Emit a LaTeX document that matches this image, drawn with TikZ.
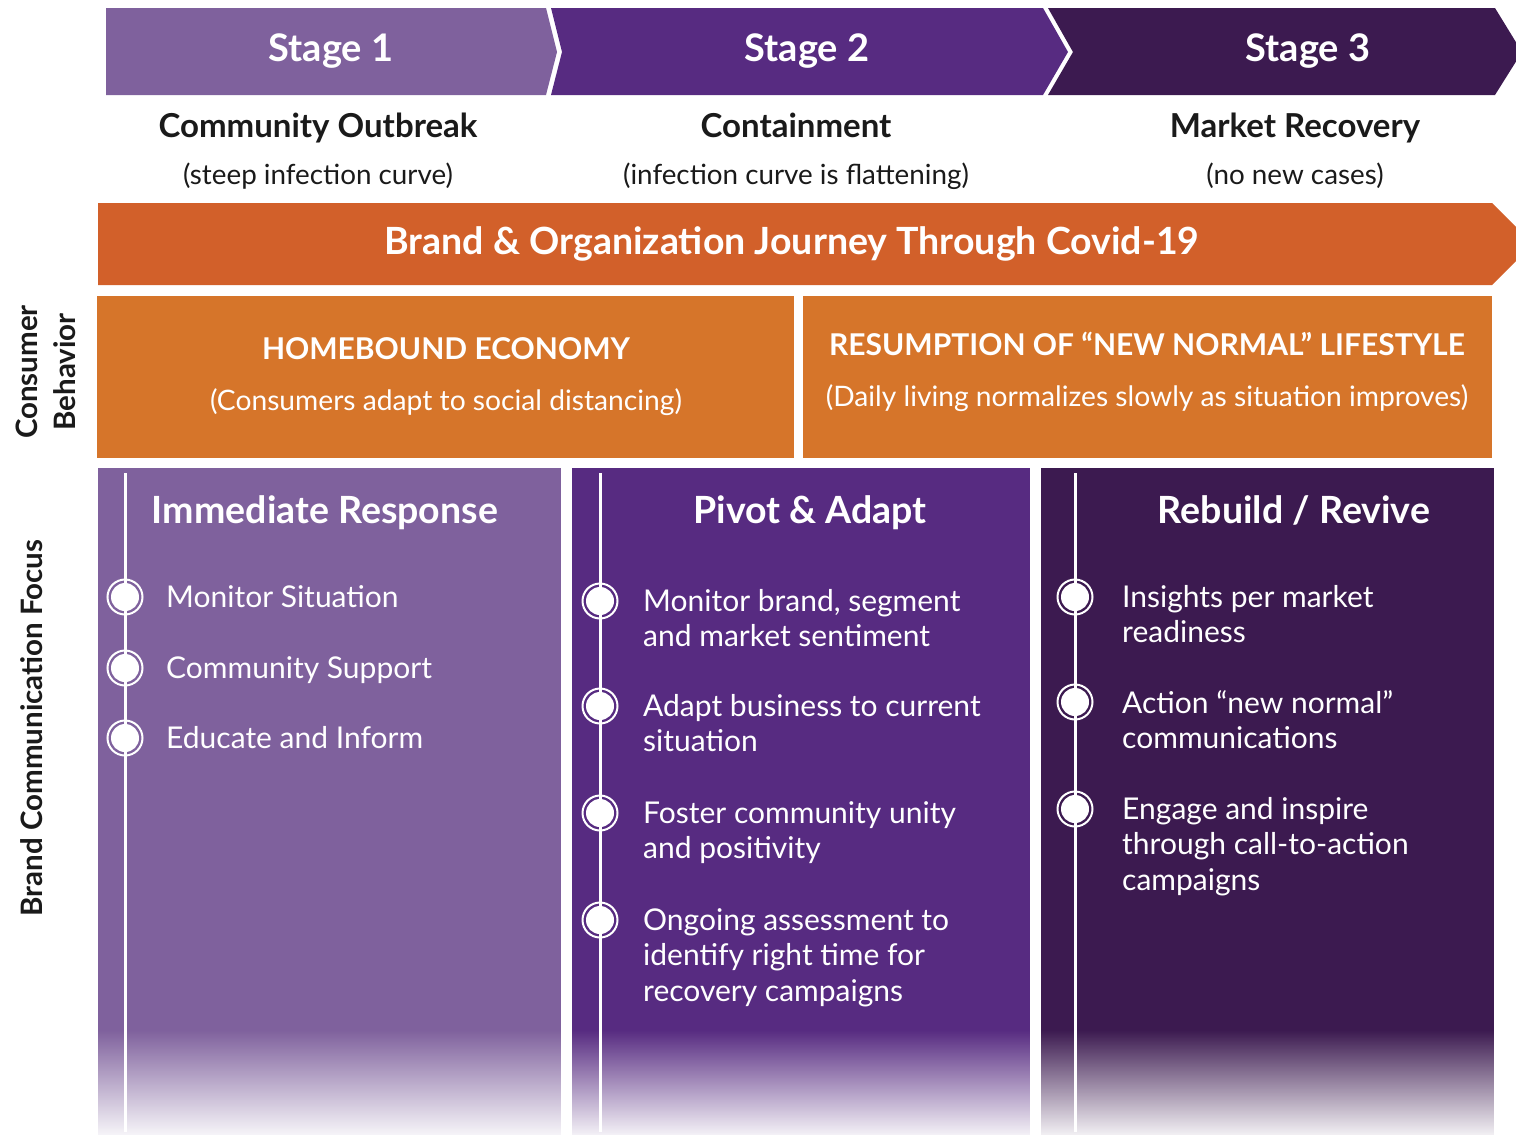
\documentclass[tikz,border=0pt]{standalone}
\usepackage{fontspec}
\setmainfont{Lato}
\usetikzlibrary{fadings}

\definecolor{stageone}{RGB}{127,97,157}
\definecolor{stagetwo}{RGB}{87,43,129}
\definecolor{stagethree}{RGB}{60,26,80}
\definecolor{journey}{RGB}{210,96,42}
\definecolor{behave}{RGB}{214,117,42}
\definecolor{ink}{RGB}{26,26,26}

\tikzfading[name=fadedown, top color=transparent!100, bottom color=transparent!6]

\newcommand{\fs}[1]{\fontsize{#1}{1.22\dimexpr#1pt\relax}\selectfont}

\begin{document}
\begin{tikzpicture}[x=1pt,y=-1pt,
  stagetxt/.style={text=white, font=\fs{38}\bfseries, anchor=mid},
  phasetxt/.style={text=ink, font=\fs{33}\bfseries, anchor=mid},
  subtxt/.style={text=ink, font=\fs{27.8}, anchor=mid},
  boxhead/.style={text=white, font=\fs{30}\bfseries, anchor=mid},
  boxsub/.style={text=white, font=\fs{28.2}, anchor=mid},
  colhead/.style={text=white, font=\fs{37.5}\bfseries, anchor=mid},
  itemtxt/.style={text=white, font=\fontsize{30}{35.6}\selectfont, align=left, anchor=north west, inner sep=0},
  sidetxt/.style={text=ink, font=\fontsize{29.5}{38}\selectfont\bfseries, rotate=90, align=center},
  dot/.style={circle, fill=white, minimum size=28, inner sep=0},
  ring/.style={draw=white, line width=2},
  timeline/.style={white, line width=3}]
\useasboundingbox (0,0) rectangle (1516,1135);

% stage chevrons
\fill[stageone] (106,8) -- (546,8) -- (557,52) -- (546,95) -- (106,95) -- cycle;
\fill[stagetwo] (551,8) -- (1043,8) -- (1068,52) -- (1043,95) -- (551,95) -- (562,52) -- cycle;
\fill[stagethree] (1048,8) -- (1495,8) -- (1522,52) -- (1495,95) -- (1048,95) -- (1073,52) -- cycle;
\node[stagetxt] (s1) at (331,59) {Stage 1};
\node[stagetxt] (s2) at (807,59) {Stage 2};
\node[stagetxt] (s3) at (1308,59) {Stage 3};

% phases
\node[phasetxt] (p1) at (318,135) {Community Outbreak};
\node[subtxt] (p1sub) at (318,182) {(steep infection curve)};
\node[phasetxt] (p2) at (796,135) {Containment};
\node[subtxt] (p2sub) at (796,182) {(infection curve is flattening)};
\node[phasetxt] (p3) at (1295,135) {Market Recovery};
\node[subtxt] (p3sub) at (1295,182) {(no new cases)};

% journey arrow
\fill[journey] (98,203) -- (1492,203) -- (1533,244) -- (1492,285) -- (98,285) -- cycle;
\node[colhead] (journey) at (792,252) {Brand \& Organization Journey Through Covid-19};

% consumer behaviour
\fill[behave] (97,296) rectangle (794,458);
\fill[behave] (803,296) rectangle (1492,458);
\node[boxhead] (home) at (446,357) {HOMEBOUND ECONOMY};
\node[boxsub] (homesub) at (446,408) {(Consumers adapt to social distancing)};
\node[boxhead] (resume) at (1147,353) {RESUMPTION OF “NEW NORMAL” LIFESTYLE};
\node[boxsub] (resumesub) at (1147,404) {(Daily living normalizes slowly as situation improves)};

% side labels
\node[sidetxt] (consumer) at (46,372) {Consumer\\Behavior};
\node[sidetxt] (focus) at (32,728) {Brand Communication Focus};

% columns
\fill[stageone] (98,468) rectangle (561,1135);
\fill[stagetwo] (572,468) rectangle (1030,1135);
\fill[stagethree] (1041,468) rectangle (1494,1135);
\coordinate (t1top) at (125,473); \coordinate (t1bot) at (125,1132);
\coordinate (t2top) at (600,473); \coordinate (t2bot) at (600,1132);
\coordinate (t3top) at (1075,473); \coordinate (t3bot) at (1075,1132);
\draw[timeline] (t1top) -- (t1bot);
\draw[timeline] (t2top) -- (t2bot);
\draw[timeline] (t3top) -- (t3bot);

\node[colhead] (h1) at (325,521) {Immediate Response};
\node[colhead] (h2) at (810,521) {Pivot \& Adapt};
\node[colhead] (h3) at (1294,521) {Rebuild / Revive};

\foreach \y/\t [count=\i] in {597/{Monitor Situation}, 668/{Community Support}, 738/{Educate and Inform}}{
  \node[dot] (a\i) at (125,\y) {};
  \draw[ring] (a\i.center) circle (17.5);
  \node[itemtxt] (ta\i) at (166,\y-12) {\t};
}
\foreach \y/\t [count=\i] in {601/{Monitor brand, segment\\and market sentiment},
    706/{Adapt business to current\\situation},
    813/{Foster community unity\\and positivity},
    920/{Ongoing assessment to\\identify right time for\\recovery campaigns}}{
  \node[dot] (b\i) at (600,\y) {};
  \draw[ring] (b\i.center) circle (17.5);
  \node[itemtxt] (tb\i) at (643,\y-12) {\t};
}
\foreach \y/\t [count=\i] in {597/{Insights per market\\readiness},
    702/{Action “new normal”\\communications},
    809/{Engage and inspire\\through call-to-action\\campaigns}}{
  \node[dot] (c\i) at (1075,\y) {};
  \draw[ring] (c\i.center) circle (17.5);
  \node[itemtxt] (tc\i) at (1122,\y-12) {\t};
}

% fade out at the bottom
\fill[white, path fading=fadedown] (90,1030) rectangle (1500,1135);
\end{tikzpicture}
\end{document}
